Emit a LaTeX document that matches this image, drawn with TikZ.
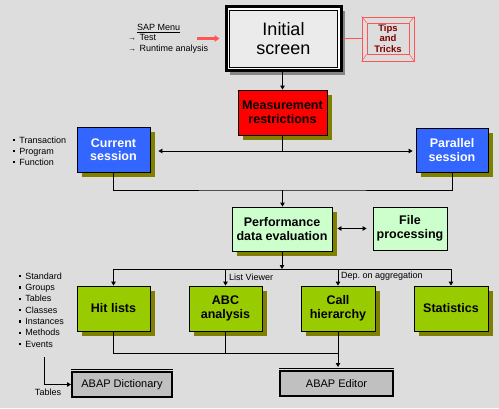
\documentclass[tikz,border=0pt]{standalone}
\usepackage{fontspec}
\setmainfont{Liberation Sans}
\usetikzlibrary{positioning,arrows.meta,shadows,calc}

\definecolor{bgGrey}{HTML}{DDDDDD}
\definecolor{initFill}{HTML}{EBEBEB}
\definecolor{frameShadow}{HTML}{858585}
\definecolor{oliveShadow}{HTML}{808000}
\definecolor{measRed}{HTML}{FF0000}
\definecolor{sessBlue}{HTML}{3366FF}
\definecolor{evalGreen}{HTML}{CCFFCC}
\definecolor{toolGreen}{HTML}{99CC00}
\definecolor{editGrey}{HTML}{C0C0C0}
\definecolor{tipRed}{HTML}{FF5555}
\definecolor{tipText}{HTML}{800000}

\newcommand{\sqbul}{\rule[2pt]{2.2pt}{2.2pt}\hspace{4.5pt}}
\newcommand{\menuarr}{{\fontsize{8}{8}\selectfont →}\hspace{3.5pt}}

\begin{document}
\begin{tikzpicture}[
    x=1pt, y=-1pt,
    box/.style={draw, line width=0.8pt, inner sep=0pt, align=center, font=\fontsize{12.5}{13.5}\selectfont\bfseries},
    shadowed/.style={drop shadow={shadow xshift=5pt, shadow yshift=-5pt, fill=oliveShadow, opacity=1}},
    editbox/.style={draw, line width=2pt, fill=editGrey, inner sep=0pt, font=\fontsize{11}{13}\selectfont},
    arrow/.style={-{Triangle[length=4pt,width=4.5pt]}, line width=0.8pt},
    dblarrow/.style={{Triangle[length=4pt,width=4.5pt]}-{Triangle[length=4pt,width=4.5pt]}, line width=0.8pt},
    link/.style={line width=0.8pt},
    tipline/.style={draw=tipRed, line width=0.8pt},
    menupointer/.style={-{Triangle[length=5pt,width=6.5pt]}, line width=3pt, draw=tipRed},
    note/.style={font=\fontsize{9}{11}\selectfont, align=left, inner sep=0pt},
]
\useasboundingbox (0,0) rectangle (499,408);
\fill[bgGrey] (0,0) rectangle (499,408);

% ================== Start ==================
\node[draw, line width=3pt, fill=white, inner sep=0pt, minimum width=115pt, minimum height=64pt,
      drop shadow={shadow xshift=4pt, shadow yshift=-4pt, fill=frameShadow, opacity=1}] (initframe) at (283.5,38.5) {};
\node[draw, line width=1pt, fill=initFill, inner sep=0pt, minimum width=108pt, minimum height=57pt,
      align=center, font=\fontsize{18}{19}\selectfont] (init) at (initframe) {Initial\\screen};

\node[draw=tipRed, line width=0.8pt, inner sep=0pt, minimum width=52pt, minimum height=44pt] (tipsframe) at (388,39) {};
\node[draw=tipRed, line width=0.8pt, inner sep=0pt, minimum width=42pt, minimum height=31pt, align=center,
      text=tipText, font=\fontsize{9.5}{10.8}\selectfont\bfseries] (tips) at (388,38.5) {Tips\\and\\Tricks};
\foreach \c in {north west, north east, south west, south east}
    \draw[tipline, line width=0.5pt] (tipsframe.\c) -- (tips.\c);
\draw[tipline] (initframe.east) -- (initframe.east -| tipsframe.west);

\node[note, anchor=west, font=\fontsize{9}{10.5}\selectfont] (sapmenu) at (128,38.5)
    {\hspace*{9pt}\underline{SAP Menu}\\\menuarr Test\\\menuarr Runtime analysis};
\coordinate (menutail) at (197,38.5);
\draw[menupointer] (menutail) -- ([xshift=-5pt]initframe.west);

% ================== Measurement ==================
\node[box, shadowed, fill=measRed, minimum width=89pt, minimum height=45pt] (meas) at (282.5,112.5) {Measurement\\restrictions};
\draw[arrow] (initframe.south -| meas.north) -- (meas.north);

\node[box, shadowed, fill=sessBlue, text=white, minimum width=73pt, minimum height=45pt] (cur) at (113.5,149.5) {Current\\session};
\node[box, shadowed, fill=sessBlue, text=white, minimum width=72pt, minimum height=44pt] (par) at (452,150) {Parallel\\session};

\coordinate (split) at (282.5,151);
\draw[link] (meas.south) -- (split);
\draw[arrow] (split) -- ([xshift=8pt]cur.east |- split);
\draw[arrow] (split) -- ([xshift=-3pt]par.west |- split);

\node[note, anchor=west] (calltypes) at (12.5,151) {\sqbul Transaction\\\sqbul Program\\\sqbul Function};

% ================== Evaluation ==================
\node[box, shadowed, fill=evalGreen, minimum width=100pt, minimum height=44pt] (perf) at (282,229) {Performance\\data evaluation};
\node[box, fill=evalGreen, minimum width=74pt, minimum height=43pt] (file) at (410,228.5) {File\\processing};

\coordinate (merge) at (282.5,190);
\draw[link] (cur.south) |- (merge) -| (par.south);
\draw[arrow] (merge) -- (merge |- perf.north);
\draw[dblarrow] ([xshift=5pt]perf.east |- file.west) -- ([xshift=-6pt]file.west);

% ================== Tools ==================
\node[box, shadowed, fill=toolGreen, minimum width=73pt, minimum height=45pt] (hit) at (113.5,308.5) {Hit lists};
\node[box, shadowed, fill=toolGreen, minimum width=73pt, minimum height=45pt] (abc) at (225.5,308.5) {ABC\\analysis};
\node[box, shadowed, fill=toolGreen, minimum width=74pt, minimum height=45pt] (call) at (338,308.5) {Call\\hierarchy};
\node[box, shadowed, fill=toolGreen, minimum width=74pt, minimum height=45pt] (stat) at (451,308.5) {Statistics};

\coordinate (fork) at (282.5,269);
\draw[arrow] (perf.south) -- (perf.south |- fork);
\draw[link] (fork -| hit.north) -- (fork -| stat.north);
\foreach \t in {hit, abc, call, stat}
    \draw[arrow] (fork -| \t.north) -- (\t.north);

\node[note, anchor=west] (listview) at (229,277) {List Viewer};
\node[note, anchor=west] (depagg) at (341,276) {Dep.\ on aggregation};

\node[note, anchor=west, font=\fontsize{9}{11.3}\selectfont] (members) at (18.5,310)
    {\sqbul Standard\\\sqbul Groups\\\sqbul Tables\\\sqbul Classes\\\sqbul Instances\\\sqbul Methods\\\sqbul Events};

% ================== Repository tools ==================
\node[editbox, minimum width=113pt, minimum height=25pt] (edit) at (336.5,383.5) {ABAP Editor};
\draw[line width=0.6pt] ([yshift=1.8pt]edit.north west) -- ([yshift=1.8pt]edit.north east);
\node[editbox, minimum width=100pt, minimum height=25pt] (dict) at (122,384.5) {ABAP Dictionary};
\draw[line width=0.6pt] ([yshift=1.8pt]dict.north west) -- ([yshift=1.8pt]dict.north east);

\coordinate (gather) at (338,353);
\coordinate (edittop) at ([yshift=3pt]edit.north);
\draw[link] (hit.south) |- (gather);
\draw[link] (abc.south) -- (abc.south |- gather);
\draw[arrow] (call.south) -- (call.south |- edittop);

\coordinate (memtail) at (44,357);
\draw[arrow] (memtail) |- (dict.west);
\node[note] (tablesnote) at (48,392) {Tables};

\end{tikzpicture}
\end{document}
